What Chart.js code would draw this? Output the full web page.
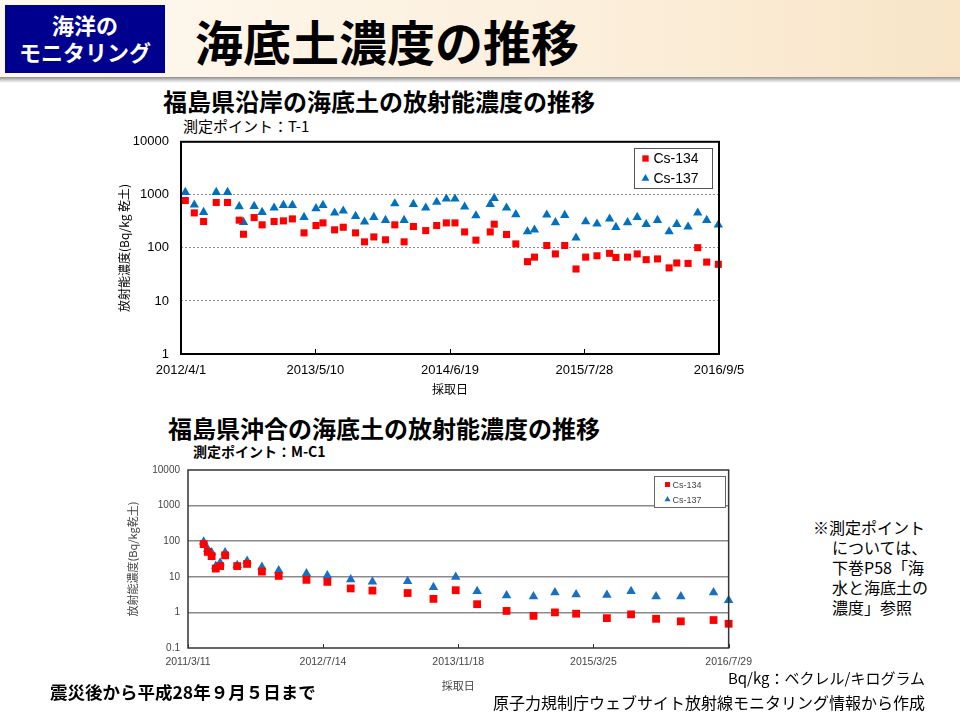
<!DOCTYPE html>
<html lang="ja">
<head>
<meta charset="utf-8">
<title>海底土濃度の推移</title>
<script src="https://cdn.jsdelivr.net/npm/chart.js@4.4.1/dist/chart.umd.min.js"></script>
<style>
  html, body { margin: 0; padding: 0; }
  body { width: 960px; height: 720px; position: relative; overflow: hidden; background: #fff;
         font-family: "Noto Sans CJK JP", "Noto Sans", sans-serif; color: #000; }
  .abs { position: absolute; white-space: nowrap; }
  #head { left: 0; top: 0; width: 960px; height: 77px;
          background: linear-gradient(90deg, #fef9f0 0%, #fcf0de 55%, #f8e5c8 100%); }
  #shade { left: 0; top: 77px; width: 960px; height: 6px; background: linear-gradient(#8e8e8e, #d6d6d6 60%, #fff); }
  #tag { left: 5px; top: 5px; width: 160px; height: 68px; background: #00008f; color: #fff;
         font-size: 22px; font-weight: bold; line-height: 27px; text-align: center;
         padding-top: 6px; box-sizing: border-box; }
  #title { left: 195px; top: 12px; font-size: 48px; font-weight: bold; line-height: 56px; }
  .ctitle { font-size: 24px; font-weight: bold; line-height: 28px; }
  #t1title { left: 163px; top: 87px; }
  #m1title { left: 168px; top: 414px; }
  #t1pt { left: 183px; top: 117px; font-size: 15px; line-height: 18px; }
  #m1pt { left: 193px; top: 442px; font-size: 14px; line-height: 18px; font-weight: bold; }
  #note { left: 813px; top: 517px; font-size: 16px; line-height: 20px; }
  #note .in { padding-left: 19px; }
  #period { left: 50px; top: 681px; font-size: 17.5px; font-weight: bold; line-height: 22px; }
  #unit { right: 35px; top: 668px; font-size: 15px; line-height: 20px; }
  #src { right: 35px; top: 692px; font-size: 16px; line-height: 20px; }
  canvas { position: absolute; }
</style>
</head>
<body>
<div class="abs" id="head"></div>
<div class="abs" id="shade"></div>
<div class="abs" id="tag">海洋の<br>モニタリング</div>
<div class="abs" id="title">海底土濃度の推移</div>

<div class="abs ctitle" id="t1title">福島県沿岸の海底土の放射能濃度の推移</div>
<div class="abs" id="t1pt">測定ポイント：T-1</div>
<canvas id="chartT1" width="660" height="288" style="left:100px;top:122px;width:660px;height:288px"></canvas>

<div class="abs ctitle" id="m1title">福島県沖合の海底土の放射能濃度の推移</div>
<div class="abs" id="m1pt">測定ポイント：M-C1</div>
<canvas id="chartM1" width="660" height="264" style="left:100px;top:456px;width:660px;height:264px"></canvas>

<div class="abs" id="note">※測定ポイント<br><span class="in">については、</span><br><span class="in">下巻P58「海</span><br><span class="in">水と海底土の</span><br><span class="in">濃度」参照</span></div>
<div class="abs" id="period">震災後から平成28年９月５日まで</div>
<div class="abs" id="unit">Bq/kg：ベクレル/キログラム</div>
<div class="abs" id="src">原子力規制庁ウェブサイト放射線モニタリング情報から作成</div>

<script>
// 沿岸 (T-1) の採取日と濃度 Bq/kg
const t1Dates = ['2012/4/14','2012/5/11','2012/6/8','2012/7/16','2012/8/19','2012/9/23','2012/10/6','2012/11/7','2012/12/1',
  '2013/1/6','2013/2/3','2013/3/2','2013/4/6','2013/5/12','2013/6/2','2013/7/7','2013/8/2','2013/9/8','2013/10/5','2013/11/2','2013/12/7',
  '2014/1/4','2014/2/1','2014/3/1','2014/4/7','2014/5/10','2014/6/8','2014/7/4','2014/8/2','2014/9/5','2014/10/18','2014/10/30','2014/12/6',
  '2015/1/3','2015/2/7','2015/2/28','2015/4/6','2015/5/2','2015/5/30','2015/7/3','2015/8/1','2015/9/4','2015/10/12','2015/10/31','2015/12/5',
  '2016/1/3','2016/1/30','2016/3/4','2016/4/8','2016/5/1','2016/6/4','2016/7/3','2016/7/30','2016/9/3'];
const t1Cs134 = [782, 457, 314, 717, 717, 333, 181, 373, 272, 314, 323, 352, 192, 264, 296, 219, 245, 192, 130, 161, 142,
  272, 130, 253, 212, 264, 296, 296, 200, 140, 200, 280, 179, 119, 55, 67, 111, 77, 111, 40, 67, 71, 79, 66, 67,
  77, 60, 62, 42, 52, 51, 101, 54, 49];
const t1Cs137 = [1120, 647, 471, 1120, 1120, 603, 305, 611, 471, 569, 638, 638, 379, 553, 638, 457, 499, 395, 310, 379, 333,
  685, 333, 666, 569, 728, 841, 841, 594, 407, 666, 865, 569, 426, 203, 219, 420, 301, 413, 155, 314, 284, 352, 245, 301,
  379, 280, 333, 203, 280, 249, 457, 333, 272];
const t1XTicks = ['2012/4/1', '2013/5/10', '2014/6/19', '2015/7/28', '2016/9/5'];
const t1YTicks = [1, 10, 100, 1000, 10000];

// 沖合 (M-C1)
const m1Dates = ['2011/5/7','2011/5/22','2011/6/5','2011/6/20','2011/7/6','2011/7/24','2011/9/6','2011/10/12','2011/12/5',
  '2012/2/4','2012/5/15','2012/7/30','2012/10/23','2013/1/10','2013/5/18','2013/8/20','2013/11/9','2014/1/26','2014/5/13',
  '2014/8/19','2014/11/5','2015/1/21','2015/5/13','2015/8/9','2015/11/8','2016/2/6','2016/6/4','2016/7/29'];
const m1Cs134 = [83, 50, 38, 17, 20, 40, 20, 23, 14, 10.6, 8.2, 7.2, 4.7, 4.1, 3.5, 2.4, 4.2, 1.7, 1.1,
  0.8, 1.0, 0.92, 0.69, 0.88, 0.66, 0.56, 0.61, 0.48];
const m1Cs137 = [96, 59, 48, 20, 25, 48, 21, 28, 19, 15, 12.3, 10.8, 8.4, 7.3, 7.5, 5.1, 9.9, 3.9, 3.0,
  2.8, 3.6, 3.2, 3.1, 3.9, 2.8, 2.8, 3.6, 2.2];
const m1XTicks = ['2011/3/11', '2012/7/14', '2013/11/18', '2015/3/25', '2016/7/29'];
const m1YTicks = [0.1, 1, 10, 100, 1000, 10000];

const seriesNames = ['Cs-134', 'Cs-137'];

const DAY = 86400000;
function dayNum(s) {
  const [y, m, d] = s.split('/').map(Number);
  return Date.UTC(y, m - 1, d) / DAY;
}
function fmtDay(v) {
  const dt = new Date(Math.round(v) * DAY);
  return dt.getUTCFullYear() + '/' + (dt.getUTCMonth() + 1) + '/' + dt.getUTCDate();
}
function toPoints(dates, vals) {
  return dates.map((d, i) => ({ x: dayNum(d), y: vals[i] }));
}

// 枠線と内向きの目盛り
const framePlugin = {
  id: 'frame',
  afterDatasetsDraw(chart, args, o) {
    const { ctx, chartArea: a } = chart;
    const xs = chart.scales.x;
    ctx.save();
    ctx.strokeStyle = o.color;
    ctx.lineWidth = o.width;
    ctx.strokeRect(a.left, a.top, a.right - a.left, a.bottom - a.top);
    ctx.lineWidth = 1;
    xs.ticks.forEach(t => {
      const px = Math.round(xs.getPixelForValue(t.value)) + 0.5;
      ctx.beginPath();
      ctx.moveTo(px, a.bottom);
      ctx.lineTo(px, a.bottom - o.tick);
      ctx.stroke();
    });
    ctx.restore();
  }
};

// 枠付き凡例 (グラフ内右上)
const boxLegend = {
  id: 'boxLegend',
  afterDraw(chart, args, o) {
    const { ctx, chartArea: a } = chart;
    const x = Math.round(a.right - o.right - o.w) + 0.5;
    const y = Math.round(a.top + o.top) + 0.5;
    ctx.save();
    ctx.fillStyle = '#fff';
    ctx.fillRect(x, y, o.w, o.h);
    ctx.strokeStyle = o.border;
    ctx.lineWidth = 1;
    ctx.strokeRect(x, y, o.w, o.h);
    ctx.font = o.font;
    ctx.textBaseline = 'middle';
    chart.data.datasets.forEach((ds, i) => {
      const cy = y + o.row0 + i * o.gap;
      ctx.fillStyle = ds.backgroundColor;
      Chart.helpers.drawPoint(ctx, { pointStyle: ds.pointStyle, radius: o.radius, borderWidth: 0, rotation: 0 }, x + o.markX, cy);
      ctx.fillStyle = o.color;
      ctx.fillText(ds.label, x + o.textX, cy + 1);
    });
    ctx.restore();
  }
};

function makeChart(id, data, s) {
  const xmin = dayNum(s.xTicks[0]);
  const xmax = dayNum(s.xTicks[s.xTicks.length - 1]);
  const ymin = s.yTicks[0];
  const ymax = s.yTicks[s.yTicks.length - 1];
  return new Chart(document.getElementById(id), {
    type: 'scatter',
    data: {
      datasets: [
        { label: seriesNames[0], data: toPoints(data.dates, data.cs134), pointStyle: 'rect',
          pointRadius: s.rectR, backgroundColor: '#ff0000', borderWidth: 0, clip: false },
        { label: seriesNames[1], data: toPoints(data.dates, data.cs137), pointStyle: 'triangle',
          pointRadius: s.triR, backgroundColor: s.blue, borderWidth: 0, clip: false }
      ]
    },
    options: {
      responsive: false,
      animation: false,
      events: [],
      layout: { padding: s.pad },
      plugins: {
        legend: { display: false },
        tooltip: { enabled: false },
        frame: s.frame,
        boxLegend: s.legend
      },
      scales: {
        x: {
          type: 'linear', min: xmin, max: xmax,
          afterBuildTicks: sc => { sc.ticks = s.xTicks.map(d => ({ value: dayNum(d) })); },
          afterFit: sc => { sc.height = s.xh; },
          grid: { drawOnChartArea: false, drawTicks: false },
          border: { display: false },
          ticks: { autoSkip: false, maxRotation: 0, padding: s.xpad, color: s.tickColor,
                   font: { family: 'Liberation Sans', size: s.tickSize }, callback: v => fmtDay(v) },
          title: { display: true, text: '採取日', padding: 0, color: s.tickColor,
                   font: { family: '"Noto Sans CJK JP"', size: s.titleSize } }
        },
        y: {
          type: 'logarithmic', min: ymin, max: ymax,
          afterBuildTicks: sc => { sc.ticks = s.yTicks.map(v => ({ value: v })); },
          afterFit: sc => { sc.width = s.yw; },
          grid: {
            drawTicks: false, lineWidth: s.gridW,
            color: c => (c.tick && (c.tick.value === ymin || c.tick.value === ymax)) ? 'rgba(0,0,0,0)' : s.gridColor
          },
          border: { display: false, dash: s.dash },
          ticks: { padding: s.ypad, color: s.tickColor,
                   font: { family: 'Liberation Sans', size: s.yTickSize }, callback: v => String(v) },
          title: { display: true, text: s.yTitle, padding: 0, color: s.tickColor,
                   font: { family: '"Noto Sans CJK JP"', size: s.titleSize } }
        }
      }
    },
    plugins: [framePlugin, boxLegend]
  });
}

makeChart('chartT1', { dates: t1Dates, cs134: t1Cs134, cs137: t1Cs137 }, {
  xTicks: t1XTicks, yTicks: t1YTicks,
  pad: { left: 17, top: 0, right: 41, bottom: 13 }, yw: 64, xh: 43,
  xpad: 9, ypad: 12, tickSize: 13, yTickSize: 13, titleSize: 12, tickColor: '#000',
  gridColor: '#8c8c8c', gridW: 1, dash: [2, 2],
  rectR: 5, triR: 5.4, blue: '#0070c0',
  yTitle: '放射能濃度(Bq/kg 乾土)',
  frame: { color: '#000', width: 2, tick: 5 },
  legend: { w: 78, h: 40, right: 7, top: 6, row0: 10, gap: 20, markX: 11, textX: 19, radius: 4.5,
            font: '14px "Liberation Sans"', color: '#000', border: '#555' }
});

makeChart('chartM1', { dates: m1Dates, cs134: m1Cs134, cs137: m1Cs137 }, {
  xTicks: m1XTicks, yTicks: m1YTicks,
  pad: { left: 26, top: 0, right: 30, bottom: 28 }, yw: 62, xh: 44,
  xpad: 8, ypad: 8, tickSize: 10.5, yTickSize: 10, titleSize: 11, tickColor: '#444',
  gridColor: '#8a8a8a', gridW: 1.5, dash: [],
  rectR: 5.5, triR: 5.5, blue: '#1a6fc4',
  yTitle: '放射能濃度(Bq/kg乾土)',
  frame: { color: '#333', width: 1.5, tick: 4 },
  legend: { w: 71, h: 31, right: 4, top: 6, row0: 8, gap: 15, markX: 13, textX: 18, radius: 3.5,
            font: '9px "Liberation Sans"', color: '#444', border: '#666' }
});
</script>
</body>
</html>
